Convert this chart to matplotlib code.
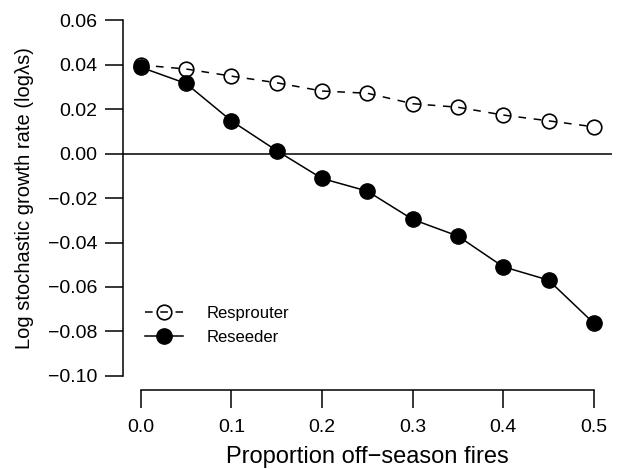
import numpy as np
import matplotlib
matplotlib.use("Agg")
import matplotlib.pyplot as plt

# Proportion of off-season fires
prop_off = [0.0, 0.05, 0.10, 0.15, 0.20, 0.25, 0.30, 0.35, 0.40, 0.45, 0.50]

# Log stochastic growth rate for each life history
resprouter = [0.0398, 0.0380, 0.0348, 0.0318, 0.0281, 0.0271, 0.0224, 0.0208, 0.0173, 0.0147, 0.0120]
reseeder = [0.0388, 0.0315, 0.0147, 0.0013, -0.0112, -0.0169, -0.0296, -0.0371, -0.0509, -0.0569, -0.0763]

x_ticks = [0.0, 0.1, 0.2, 0.3, 0.4, 0.5]
y_ticks = [-0.10, -0.08, -0.06, -0.04, -0.02, 0.00, 0.02, 0.04, 0.06]

plt.rcParams['font.family'] = ['Liberation Sans', 'DejaVu Sans']

fig = plt.figure(figsize=(6.27, 4.69), dpi=100)
ax = fig.add_axes([0.1955, 0.168, 0.7805, 0.8196])

ax.axhline(0, color='black', lw=1.1, zorder=1)

ax.plot(prop_off, resprouter, color='black', lw=1.1, dashes=(5, 5),
        marker='o', ms=10.5, mfc='none', mec='black', mew=1.2,
        label='Resprouter', zorder=3)
ax.plot(prop_off, reseeder, color='black', lw=1.1,
        marker='o', ms=11, mfc='black', mec='black',
        label='Reseeder', zorder=2)

ax.set_xlim(-0.02, 0.52)
ax.set_ylim(-0.1064, 0.0664)

ax.set_xticks(x_ticks)
ax.set_xticklabels([f"{v:.1f}" for v in x_ticks])
ax.set_yticks(y_ticks)
ax.set_yticklabels([f"{v:.2f}".replace('-', '\u2212') for v in y_ticks])

for s in ['top', 'right']:
    ax.spines[s].set_visible(False)
ax.spines['left'].set_bounds(-0.10, 0.06)
ax.spines['bottom'].set_bounds(0.0, 0.5)
for s in ['left', 'bottom']:
    ax.spines[s].set_linewidth(1.1)

ax.tick_params(axis='both', direction='out', length=13, width=1.1,
               labelsize=14)
ax.tick_params(axis='x', pad=8)
ax.tick_params(axis='y', pad=5)

ax.set_xlabel('Proportion off\u2212season fires', fontsize=17, labelpad=7)
ax.set_ylabel('Log stochastic growth rate (log\u03bbs)', fontsize=14.5, labelpad=10)

leg = ax.legend(loc='center left', bbox_to_anchor=(0.045, 0.168), frameon=False,
                fontsize=12, handlelength=2.3, handletextpad=1.4,
                labelspacing=0.55, borderpad=0, borderaxespad=0)

fig.savefig('out.png', dpi=100)
